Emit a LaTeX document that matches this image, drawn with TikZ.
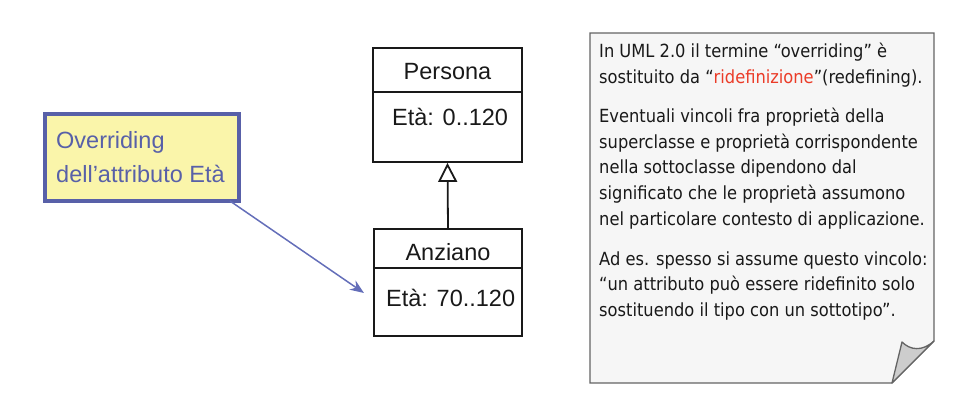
\documentclass[tikz,border=0pt]{standalone}
\usepackage{fontspec}
\setmainfont{Liberation Sans}
\newfontfamily\notefont{DejaVu Sans Condensed}
\usetikzlibrary{arrows.meta}
\definecolor{cmtblue}{RGB}{88,96,168}
\definecolor{cmtfill}{RGB}{250,245,170}
\definecolor{arrblue}{RGB}{100,110,185}
\definecolor{notefill}{RGB}{246,246,246}
\definecolor{noteline}{RGB}{100,100,100}
\definecolor{foldfill}{RGB}{205,205,205}
\definecolor{redtxt}{RGB}{235,60,40}
\tikzset{
  umlbox/.style={draw=black!90, line width=1.8pt},
  umltxt/.style={font=\fontsize{23.5}{26}\selectfont, text=black!90, inner sep=0pt},
  notetxt/.style={font=\notefont\fontsize{18.1}{25.8}\selectfont, text=black!90, align=left, inner sep=0pt, anchor=base west},
  cmttxt/.style={font=\fontsize{23.5}{34}\selectfont, text=cmtblue, align=left, inner sep=0pt, anchor=base west},
}
\begin{document}
\begin{tikzpicture}[x=1pt,y=-1pt]
\useasboundingbox (0,0) rectangle (956,404);
% comment box
\node[draw=cmtblue, fill=cmtfill, line width=4pt, minimum width=194pt, minimum height=87pt, inner sep=0pt] (cmt) at (142,157.5) {};
\node[cmttxt] (cmtt) at (56,182) {Overriding\\dell’attributo Età};
% Persona
\node[umlbox, minimum width=149pt, minimum height=114pt, inner sep=0pt] (pers) at (447.5,105) {};
\draw[umlbox] (373,92) -- (522,92);
\node[umltxt, anchor=base] (perst) at (447.5,80) {Persona};
\node[umltxt, anchor=base west] (persa) at (392,125) {Età: 0..120};
% Anziano
\node[umlbox, minimum width=148pt, minimum height=107pt, inner sep=0pt] (anz) at (448,282.5) {};
\draw[umlbox] (374,268) -- (522,268);
\node[umltxt, anchor=base] (anzt) at (448,260) {Anziano};
\node[umltxt, anchor=base west] (anza) at (386,306) {Età: 70..120};
% generalization
\draw[line width=1.8pt, black!90, -{Triangle[open, length=19pt, width=19pt, line width=1.8pt]}] (anz.north) -- (pers.south);
% comment arrow
\coordinate (cmtfoot) at (230,201);
\coordinate (arrend) at (364,293);
\draw[arrblue, line width=1.5pt, -{Stealth[length=14pt, width=11pt]}] (cmtfoot) -- (arrend);
% note
\draw[noteline, fill=notefill, line width=1.3pt] (590,33) -- (934,33) -- (934,341) -- (892,383) -- (590,383) -- cycle;
\draw[noteline, fill=foldfill, line width=1.3pt, line join=round] (934,341) .. controls (922,352) and (910,350) .. (902,342) -- (892,383) -- cycle;
\node[notetxt] (p1) at (599,83.3) {In UML 2.0 il termine “overriding” è\\sostituito da “\textcolor{redtxt}{ridefinizione}”(redefining).};
\node[notetxt] (p2) at (599,225.5) {Eventuali vincoli fra proprietà della\\superclasse e proprietà corrispondente\\nella sottoclasse dipendono dal\\significato che le proprietà assumono\\nel particolare contesto di applicazione.};
\node[notetxt] (p3) at (599,316.7) {Ad es. spesso si assume questo vincolo:\\“un attributo può essere ridefinito solo\\sostituendo il tipo con un sottotipo”.};
\end{tikzpicture}
\end{document}
